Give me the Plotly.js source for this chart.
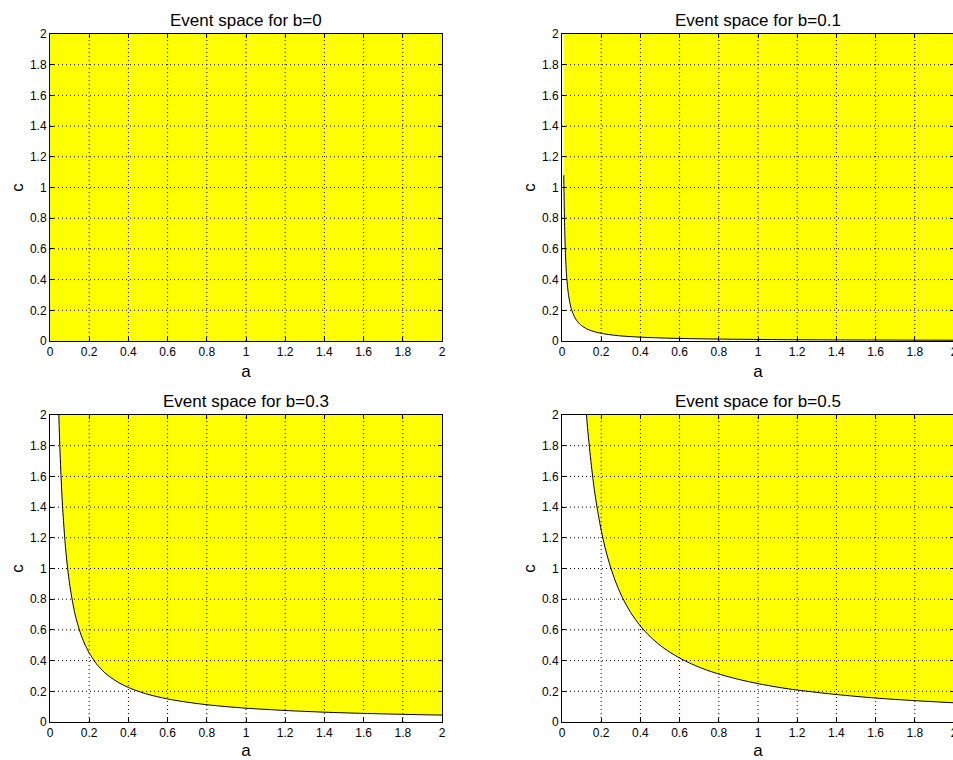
<!DOCTYPE html>
<html><head><meta charset="utf-8">
<script src="https://cdn.plot.ly/plotly-3.0.1.min.js"></script>
<style>html,body{margin:0;padding:0;overflow:hidden;background:#fff}#chart{width:964px;height:760px}</style>
</head><body><div id="chart"></div><script>
const W = 964, H = 760;
const FONT = 'Liberation Sans, Arial, Helvetica, sans-serif';

// Subplot titles
const plotTitles = ['Event space for b=0', 'Event space for b=0.1', 'Event space for b=0.3', 'Event space for b=0.5'];

// Axis ticks
const tickVals = [0, 0.2, 0.4, 0.6, 0.8, 1, 1.2, 1.4, 1.6, 1.8, 2];
const tickText = ['0', '0.2', '0.4', '0.6', '0.8', '1', '1.2', '1.4', '1.6', '1.8', '2'];
const axisMin = 0, axisMax = 2;

// Boundary curves (lower edge of the yellow event region)
const a_b0 = [0, 2];
const c_b0 = [0, 0];

const a_b01 = [0.009, 0.011, 0.013, 0.015, 0.0175, 0.02, 0.0225, 0.025, 0.03, 0.035, 0.04, 0.045, 0.05, 0.06, 0.07, 0.08, 0.09, 0.1, 0.125, 0.15, 0.175, 0.2, 0.25, 0.3, 0.35, 0.4, 0.5, 0.6, 0.7, 0.8, 1.0, 1.2, 1.4, 1.6, 1.8, 2.0];
const c_b01 = [1.08, 0.91, 0.77, 0.67, 0.57, 0.5, 0.44, 0.4, 0.333, 0.286, 0.25, 0.222, 0.2, 0.167, 0.143, 0.125, 0.111, 0.1, 0.08, 0.067, 0.057, 0.05, 0.04, 0.033, 0.0286, 0.025, 0.02, 0.0167, 0.0143, 0.0125, 0.01, 0.0083, 0.0071, 0.0063, 0.0056, 0.005];

const a_b03 = [0.045, 0.05, 0.055, 0.06, 0.065, 0.07, 0.075, 0.08, 0.09, 0.1, 0.11, 0.12, 0.13, 0.14, 0.15, 0.16, 0.17, 0.18, 0.19, 0.2, 0.215, 0.23, 0.245, 0.26, 0.28, 0.3, 0.325, 0.35, 0.375, 0.4, 0.45, 0.5, 0.55, 0.6, 0.7, 0.8, 0.9, 1.0, 1.2, 1.4, 1.6, 1.8, 2.0];
const c_b03 = [2.0, 1.8, 1.64, 1.5, 1.385, 1.29, 1.2, 1.125, 1.0, 0.9, 0.82, 0.75, 0.69, 0.643, 0.6, 0.5625, 0.53, 0.5, 0.474, 0.45, 0.42, 0.39, 0.367, 0.346, 0.32, 0.3, 0.277, 0.257, 0.24, 0.225, 0.2, 0.18, 0.164, 0.15, 0.129, 0.1125, 0.1, 0.09, 0.075, 0.064, 0.056, 0.05, 0.045];

const a_b05 = [0.125, 0.13, 0.14, 0.15, 0.16, 0.17, 0.18, 0.19, 0.2, 0.21, 0.22, 0.235, 0.25, 0.27, 0.29, 0.31, 0.33, 0.35, 0.375, 0.4, 0.425, 0.45, 0.5, 0.55, 0.6, 0.65, 0.7, 0.75, 0.8, 0.9, 1.0, 1.1, 1.2, 1.4, 1.6, 1.8, 2.0];
const c_b05 = [2.0, 1.92, 1.79, 1.67, 1.5625, 1.47, 1.39, 1.316, 1.25, 1.19, 1.136, 1.064, 1.0, 0.926, 0.862, 0.806, 0.758, 0.714, 0.667, 0.625, 0.588, 0.556, 0.5, 0.455, 0.417, 0.385, 0.357, 0.333, 0.3125, 0.278, 0.25, 0.227, 0.208, 0.179, 0.156, 0.139, 0.125];

const curvesA = [a_b0, a_b01, a_b03, a_b05];
const curvesC = [c_b0, c_b01, c_b03, c_b05];

// Layout in pixels (plot areas)
const px = [[50, 442], [562, 954], [50, 442], [562, 954]];
const py = [[34, 341], [34, 341], [415, 722], [415, 722]];

const traces = [];
const layout = {
  width: W, height: H,
  margin: {l: 0, r: 0, t: 0, b: 0},
  paper_bgcolor: '#ffffff', plot_bgcolor: '#ffffff',
  showlegend: false,
  font: {family: FONT, color: '#000'},
  annotations: [], shapes: []
};

for (let i = 0; i < 4; i++) {
  const sfx = i === 0 ? '' : String(i + 1);
  const xr = 'x' + sfx, yr = 'y' + sfx;
  const A = curvesA[i], C = curvesC[i];
  // filled event region above the boundary
  traces.push({
    type: 'scatter', mode: 'lines', xaxis: xr, yaxis: yr,
    x: A.concat([axisMax, A[0]]),
    y: C.concat([axisMax, axisMax]),
    fill: 'toself', fillcolor: '#ffff00',
    line: {width: 0, color: '#ffff00'}, hoverinfo: 'skip'
  });
  if (i > 0) {
    traces.push({
      type: 'scatter', mode: 'lines', xaxis: xr, yaxis: yr,
      x: A, y: C, line: {color: '#000', width: 1, shape: 'spline', smoothing: 0.8}
    });
  }
  const xd = [px[i][0] / W, px[i][1] / W];
  const yd = [1 - py[i][1] / H, 1 - py[i][0] / H];
  const common = {
    range: [axisMin, axisMax], tickmode: 'array', tickvals: tickVals, ticktext: tickText,
    ticks: 'inside', ticklen: 4, tickwidth: 1, tickcolor: '#000',
    showline: true, linecolor: '#000', linewidth: 1, mirror: 'ticks',
    showgrid: false, zeroline: false, layer: 'above traces', fixedrange: true,
    tickfont: {family: FONT, size: 12, color: '#000'}
  };
  layout['xaxis' + sfx] = Object.assign({}, common, {
    domain: xd, anchor: yr,
    title: {text: 'a', font: {family: FONT, size: 17, color: '#000'}, standoff: 6}
  });
  layout['yaxis' + sfx] = Object.assign({}, common, {
    domain: yd, anchor: xr,
    title: {text: 'c', font: {family: FONT, size: 17, color: '#000'}, standoff: 1}
  });
  layout.annotations.push({
    text: plotTitles[i], xref: 'paper', yref: 'paper',
    x: (xd[0] + xd[1]) / 2, y: yd[1], xanchor: 'center', yanchor: 'bottom', yshift: 2,
    showarrow: false, font: {family: FONT, size: 17, color: '#000'}
  });
  // dotted grid drawn over the fill (as in the original)
  for (let k = 1; k < tickVals.length - 1; k++) {
    const v = tickVals[k];
    const ln = {color: '#000', width: 1, dash: '1px,3px'};
    layout.shapes.push({type: 'line', layer: 'above', xref: xr, yref: yr, x0: v, x1: v, y0: axisMin, y1: axisMax, line: ln});
    layout.shapes.push({type: 'line', layer: 'above', xref: xr, yref: yr, x0: axisMin, x1: axisMax, y0: v, y1: v, line: ln});
  }
}

Plotly.newPlot('chart', traces, layout, {displayModeBar: false, staticPlot: true});
</script></body></html>
